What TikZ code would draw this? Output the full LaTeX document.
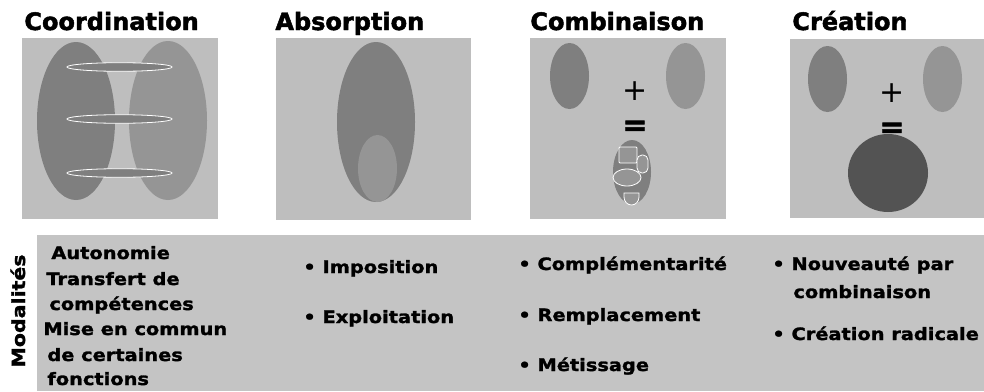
\documentclass[tikz,border=0pt]{standalone}
\usepackage{fontspec}
\usepackage{tikz}
\newfontfamily\headfont{DejaVu Sans}[BoldFeatures={FakeBold=2}]
\newfontfamily\listfont{DejaVu Sans}[FakeStretch=1.14,BoldFeatures={FakeBold=1.6}]
\definecolor{panelgray}{HTML}{BEBEBE}
\definecolor{bandgray}{HTML}{C4C4C4}
\definecolor{darkblob}{HTML}{7F7F7F}
\definecolor{lightblob}{HTML}{959595}
\definecolor{newblob}{HTML}{535353}

\begin{document}
\begin{tikzpicture}[x=1pt,y=-1pt,line width=.8pt,
  title/.style={anchor=base west,inner sep=0pt,font=\headfont\bfseries\fontsize{24}{28}\selectfont},
  item/.style={anchor=base west,inner sep=0pt,font=\listfont\bfseries\fontsize{17}{20}\selectfont},
  sign/.style={inner sep=0pt,font=\headfont\fontsize{30}{30}\selectfont},
  part/.style={fill=lightblob,draw=white}]
\useasboundingbox (0,0) rectangle (984,391);
% titles
\node[title] (tcoord) at (24,30) {Coordination};
\node[title] (tabs) at (275,30) {Absorption};
\node[title] (tcomb) at (530,30) {Combinaison};
\node[title] (tcrea) at (792,30) {Création};
% panels
\fill[panelgray] (22,38) rectangle (218,219);
\fill[panelgray] (276,38) rectangle (471,220);
\fill[panelgray] (530,38) rectangle (726,219);
\fill[panelgray] (790,39) rectangle (984,218);
% coordination
\fill[darkblob] (76,121) ellipse [x radius=39,y radius=79];
\fill[lightblob] (168,120.5) ellipse [x radius=39,y radius=79.5];
\filldraw[fill=darkblob,draw=white] (119.5,67) ellipse [x radius=52.5,y radius=4.3];
\filldraw[fill=darkblob,draw=white] (119.5,119) ellipse [x radius=52.5,y radius=4.3];
\filldraw[fill=darkblob,draw=white] (119.5,173) ellipse [x radius=52.5,y radius=4.3];
% absorption
\fill[darkblob] (376,122) ellipse [x radius=39,y radius=80];
\fill[lightblob] (377.5,168.5) ellipse [x radius=19.5,y radius=33.5];
% combinaison
\fill[darkblob] (569.5,76) ellipse [x radius=19.5,y radius=33];
\fill[lightblob] (685.5,76) ellipse [x radius=19.5,y radius=33];
\node[sign] (plus1) at (635,91) {+};
\node[sign,font=\headfont\bfseries\fontsize{30}{30}\selectfont] (eq1) at (635,128) {=};
\fill[darkblob] (632,172) ellipse [x radius=19,y radius=32];
\draw[part,rounded corners=1] (619,147) rectangle (637,163);
\draw[part,rounded corners=5] (637,155) rectangle (648,173);
\draw[part] (627,177.5) ellipse [x radius=14,y radius=8.5];
\draw[part] (624,193) -- (639,193) -- (639,197) arc[start angle=0,end angle=180,x radius=7.5,y radius=8] -- cycle;
% creation
\fill[darkblob] (827.5,79) ellipse [x radius=19.5,y radius=33];
\fill[lightblob] (942.5,79) ellipse [x radius=19.5,y radius=33];
\node[sign] (plus2) at (892,93) {+};
\fill[newblob] (888,173) ellipse [x radius=40,y radius=39];
\node[sign,font=\headfont\bfseries\fontsize{30}{30}\selectfont] (eq2) at (892,130) {=};
% modalites
\fill[bandgray] (37,235) rectangle (984,391);
\node[item,anchor=base,rotate=90,font=\listfont\bfseries\fontsize{18}{20}\selectfont] (modal) at (25,311) {Modalités};
\node[item] (auto) at (51,259) {Autonomie};
\node[item] (trans) at (46,285) {Transfert de};
\node[item] (comp) at (49,310) {compétences};
\node[item] (mise) at (43,335) {Mise en commun};
\node[item] (cert) at (47,361) {de certaines};
\node[item] (fonc) at (47,385) {fonctions};
\node[item] (impo) at (303,273) {\textbullet\ Imposition};
\node[item] (expl) at (303,323) {\textbullet\ Exploitation};
\node[item] (compl) at (518,270) {\textbullet\ Complémentarité};
\node[item] (rempl) at (518,321) {\textbullet\ Remplacement};
\node[item] (metis) at (518,371) {\textbullet\ Métissage};
\node[item] (nouv) at (772,270) {\textbullet\ Nouveauté par};
\node[item] (combi) at (793,298) {combinaison};
\node[item] (radic) at (772,340) {\textbullet\ Création radicale};
\end{tikzpicture}
\end{document}
